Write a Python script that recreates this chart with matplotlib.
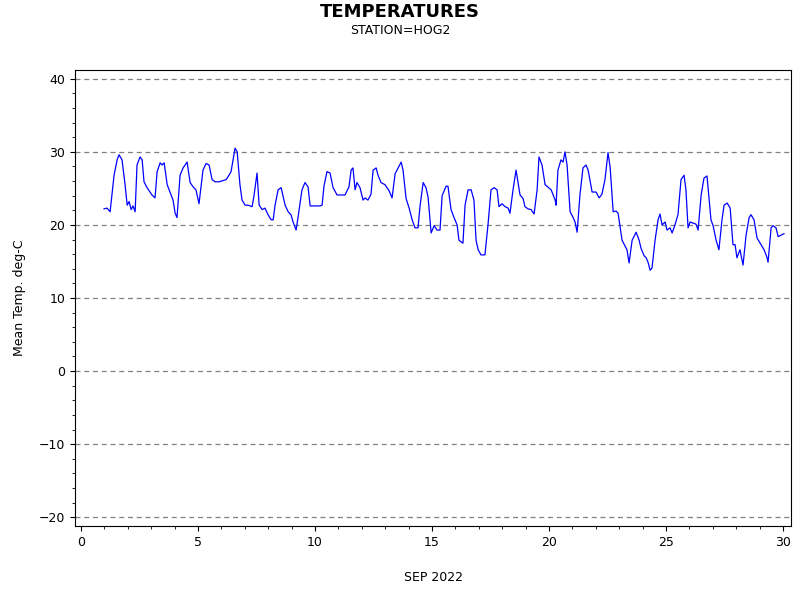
import matplotlib
matplotlib.use("Agg")
import matplotlib.pyplot as plt
from matplotlib.ticker import MultipleLocator

days = [0.98,1.11,1.24,1.41,1.54,1.62,1.75,1.88,1.97,2.05,2.14,2.22,2.31,2.39,2.52,2.61,2.69,2.82,3.03,3.16,
        3.25,3.38,3.46,3.55,3.68,3.80,3.93,4.02,4.10,4.23,4.36,4.53,4.66,4.79,4.91,5.04,5.21,5.34,5.47,5.60,
        5.73,5.90,6.20,6.32,6.41,6.58,6.67,6.79,6.88,7.01,7.14,7.31,7.39,7.52,7.61,7.74,7.86,7.99,8.12,8.21,
        8.29,8.42,8.55,8.72,8.85,8.97,9.06,9.19,9.27,9.44,9.57,9.70,9.79,9.91,10.21,10.30,10.38,10.51,10.64,10.77,
        10.94,11.11,11.28,11.45,11.54,11.62,11.71,11.79,11.92,12.05,12.14,12.26,12.39,12.48,12.61,12.69,12.82,12.99,13.16,13.29,
        13.42,13.55,13.68,13.76,13.89,14.02,14.15,14.27,14.40,14.49,14.62,14.74,14.83,14.96,15.09,15.21,15.34,15.43,15.60,15.68,
        15.81,15.94,16.07,16.15,16.32,16.41,16.54,16.67,16.79,16.88,16.97,17.09,17.26,17.39,17.52,17.65,17.78,17.86,17.99,18.12,
        18.25,18.33,18.46,18.59,18.76,18.89,18.97,19.10,19.23,19.36,19.49,19.57,19.70,19.83,19.91,20.09,20.26,20.30,20.38,20.51,
        20.60,20.68,20.77,20.90,21.03,21.11,21.20,21.32,21.45,21.58,21.67,21.84,22.01,22.14,22.26,22.39,22.52,22.61,22.74,22.86,
        22.95,23.12,23.33,23.42,23.55,23.72,23.85,23.93,24.06,24.15,24.23,24.32,24.40,24.53,24.66,24.74,24.83,24.96,25.04,25.17,
        25.26,25.38,25.51,25.64,25.77,25.85,25.94,26.03,26.11,26.28,26.37,26.50,26.62,26.75,26.92,27.01,27.14,27.26,27.39,27.48,
        27.61,27.74,27.86,27.95,28.03,28.16,28.29,28.42,28.55,28.63,28.76,28.89,29.06,29.19,29.32,29.36,29.49,29.57,29.70,29.79,
        29.91,30.04]
temps = [22.2,22.3,21.8,26.8,28.9,29.6,28.9,25.5,22.7,23.2,22.1,22.6,21.8,28.2,29.3,28.9,25.9,25.1,24.1,23.7,
         27.3,28.5,28.2,28.5,25.5,24.5,23.4,21.6,21.0,26.8,27.8,28.6,25.8,25.2,24.8,22.9,27.5,28.4,28.2,26.2,
         25.9,25.9,26.2,26.8,27.3,30.5,30.0,25.5,23.4,22.7,22.7,22.5,24.0,27.1,22.7,22.1,22.3,21.4,20.7,20.7,
         22.7,24.8,25.1,22.7,21.8,21.4,20.4,19.3,21.0,24.8,25.8,25.2,22.6,22.6,22.6,22.7,25.3,27.3,27.1,25.1,
         24.1,24.1,24.1,25.2,27.5,27.8,24.8,25.8,25.1,23.4,23.7,23.4,24.2,27.5,27.8,26.8,25.8,25.5,24.7,23.7,
         27.0,27.8,28.6,27.5,23.6,22.3,20.7,19.6,19.6,22.7,25.8,25.1,23.8,18.9,19.9,19.3,19.3,24.0,25.3,25.3,
         22.1,21.0,20.0,17.9,17.5,22.7,24.8,24.8,23.4,17.9,16.6,15.9,15.9,20.0,24.8,25.1,24.8,22.5,22.9,22.5,
         22.3,21.6,24.8,27.5,24.1,23.6,22.5,22.2,22.1,21.5,24.8,29.3,28.2,25.5,25.3,24.8,23.4,22.7,27.5,28.9,
         28.6,30.0,28.2,21.8,21.0,20.4,19.0,24.1,27.8,28.2,27.5,24.5,24.5,23.7,24.2,26.2,29.9,27.9,21.8,21.9,
         21.6,17.9,16.6,14.8,17.9,19.0,17.9,16.8,15.8,15.5,14.9,13.8,14.1,17.9,20.7,21.5,20.0,20.4,19.3,19.6,
         18.9,20.0,21.4,26.2,26.8,24.8,19.6,20.4,20.3,20.1,19.3,24.1,26.4,26.7,20.7,19.9,17.9,16.6,20.7,22.7,
         23.0,22.3,17.3,17.3,15.5,16.6,14.5,18.6,21.0,21.4,20.7,18.2,17.3,16.6,15.5,14.9,19.6,19.9,19.6,18.4,
         18.6,18.8]

x_ticks = [0, 5, 10, 15, 20, 25, 30]
y_ticks = [-20, -10, 0, 10, 20, 30, 40]

fig = plt.figure(figsize=(8, 6), dpi=100)
ax = fig.add_axes([75/800, 1-526/600, 716/800, 456/600])
ax.plot(days, temps, color="blue", lw=0.9)
ax.set_xlim(-0.26, 30.34)
ax.set_ylim(-21.2, 41.2)
ax.set_xticks(x_ticks)
ax.set_yticks(y_ticks)
ax.xaxis.set_minor_locator(MultipleLocator(1))
ax.yaxis.set_minor_locator(MultipleLocator(2))
ax.tick_params(which="both", direction="out", labelsize=9)
ax.tick_params(which="minor", length=2)
for y in y_ticks:
    ax.axhline(y, color="gray", ls=(0, (4, 3)), lw=0.9, zorder=0)
ax.set_xlabel("SEP 2022", fontsize=9, labelpad=16)
ax.set_ylabel("Mean Temp. deg-C", fontsize=9, labelpad=9)
fig.text(0.5, 1-12/600, "TEMPERATURES", ha="center", va="center", fontsize=13, fontweight="bold")
fig.text(0.5, 1-31/600, "STATION=HOG2", ha="center", va="center", fontsize=9)
fig.savefig("out.png", dpi=100)
